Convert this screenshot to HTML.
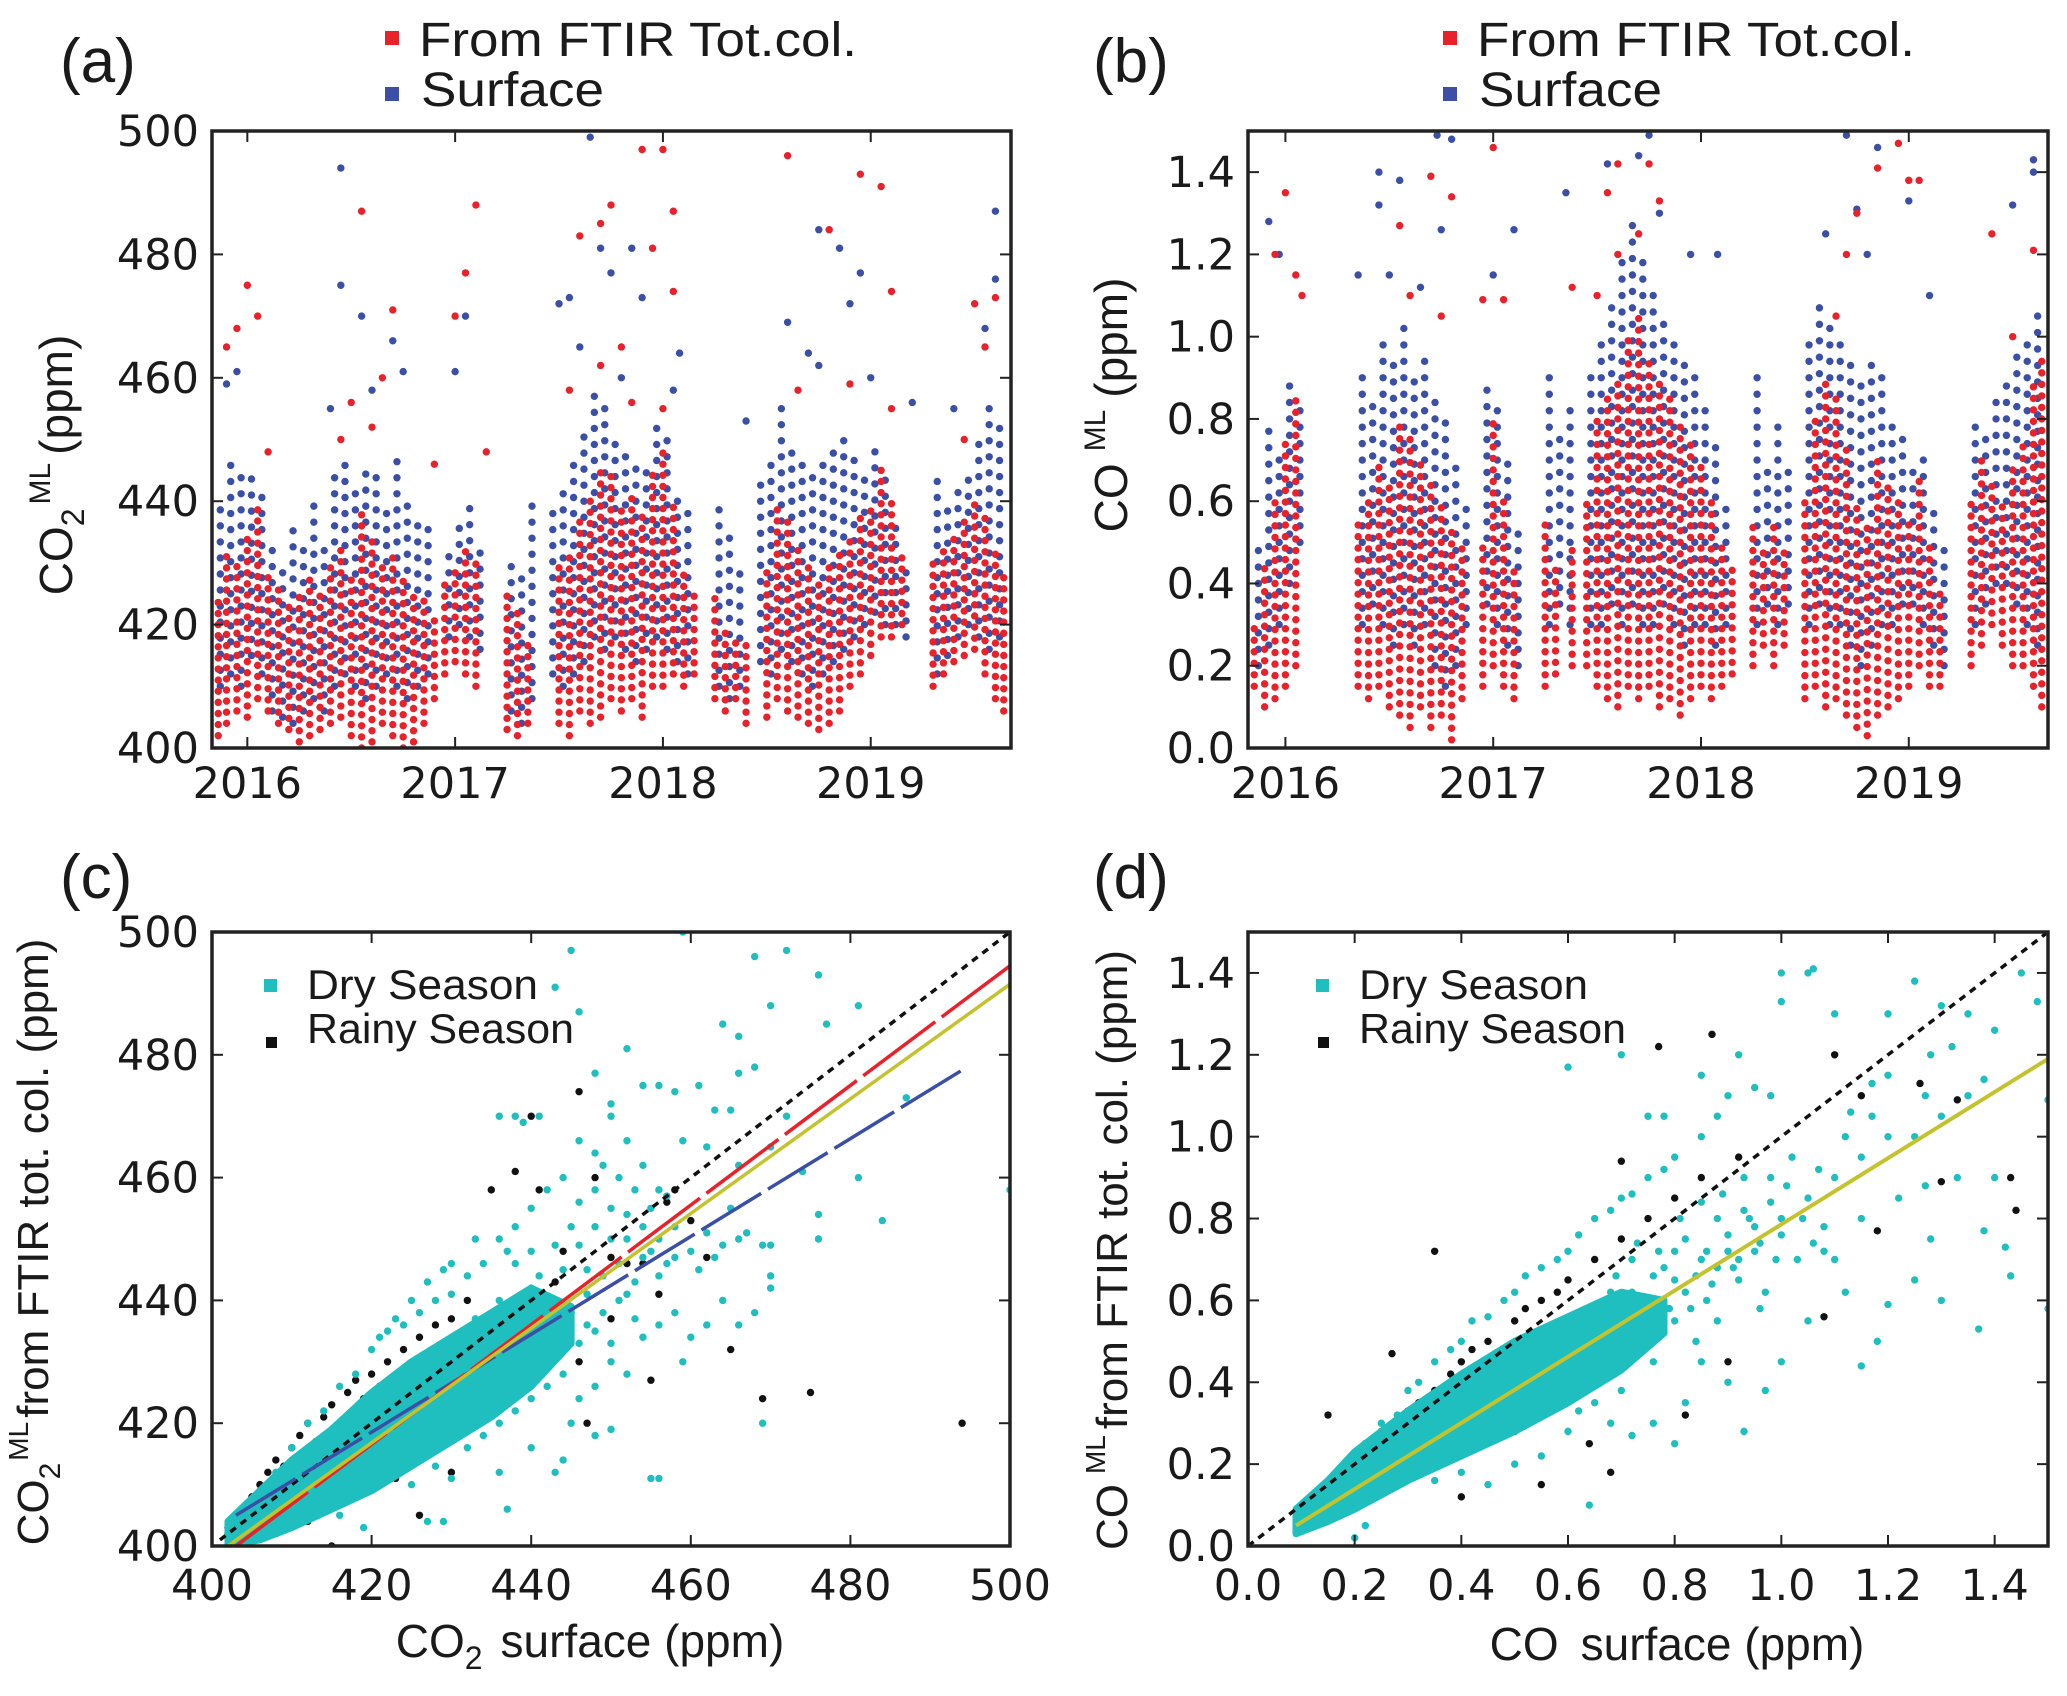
<!DOCTYPE html>
<html><head><meta charset="utf-8"><style>
html,body{margin:0;padding:0;background:#fff}
svg{display:block}
text{font-family:"DejaVu Sans","Liberation Sans",sans-serif;fill:#1a1a1a}
.lab{font-family:"Liberation Sans",sans-serif}
</style></head><body>
<svg id="fig" width="2067" height="1696" viewBox="0 0 2067 1696" xmlns="http://www.w3.org/2000/svg">
<g>
<text class="lab" x="60" y="82" font-size="62">(a)</text>
<rect x="385" y="31" width="14" height="14" fill="#e8212a"/>
<text class="lab" x="419" y="56" font-size="48" textLength="438" lengthAdjust="spacingAndGlyphs">From FTIR Tot.col.</text>
<rect x="385" y="87" width="14" height="14" fill="#3a4fa5"/>
<text class="lab" x="421" y="106" font-size="48" textLength="183" lengthAdjust="spacingAndGlyphs">Surface</text>
<text class="lab" transform="translate(72,465) rotate(-90)" text-anchor="middle" font-size="46">CO<tspan font-size="32" dy="12">2</tspan><tspan font-size="30" dy="-34" dx="4">ML</tspan><tspan dy="22" dx="8">(ppm)</tspan></text>
</g>
<g>
<text class="lab" x="1093" y="82" font-size="62">(b)</text>
<rect x="1443" y="31" width="14" height="14" fill="#e8212a"/>
<text class="lab" x="1477" y="56" font-size="48" textLength="438" lengthAdjust="spacingAndGlyphs">From FTIR Tot.col.</text>
<rect x="1443" y="87" width="14" height="14" fill="#3a4fa5"/>
<text class="lab" x="1479" y="106" font-size="48" textLength="183" lengthAdjust="spacingAndGlyphs">Surface</text>
<text class="lab" transform="translate(1127,405) rotate(-90)" text-anchor="middle" font-size="46">CO<tspan font-size="30" dy="-22" dx="12">ML</tspan><tspan dy="22" dx="12">(ppm)</tspan></text>
</g>
<g>
<text class="lab" x="60" y="898" font-size="62">(c)</text>
<rect x="264" y="979" width="13" height="13" fill="#1fbfbf"/>
<text class="lab" x="307" y="999" font-size="42" textLength="231" lengthAdjust="spacingAndGlyphs">Dry Season</text>
<rect x="266" y="1037" width="11" height="11" fill="#111"/>
<text class="lab" x="307" y="1043" font-size="42" textLength="267" lengthAdjust="spacingAndGlyphs">Rainy Season</text>
<text class="lab" x="590" y="1657" text-anchor="middle" font-size="46">CO<tspan font-size="32" dy="12">2</tspan><tspan dy="-12" dx="18">surface (ppm)</tspan></text>
<text class="lab" transform="translate(48,1242) rotate(-90)" text-anchor="middle" font-size="44">CO<tspan font-size="30" dy="12">2</tspan><tspan font-size="28" dy="-32" dx="2">ML</tspan><tspan dy="20" dx="4">from FTIR tot. col. (ppm)</tspan></text>
</g>
<g>
<text class="lab" x="1093" y="898" font-size="62">(d)</text>
<rect x="1316" y="979" width="13" height="13" fill="#1fbfbf"/>
<text class="lab" x="1359" y="999" font-size="42" textLength="229" lengthAdjust="spacingAndGlyphs">Dry Season</text>
<rect x="1318" y="1037" width="11" height="11" fill="#111"/>
<text class="lab" x="1359" y="1043" font-size="42" textLength="267" lengthAdjust="spacingAndGlyphs">Rainy Season</text>
<text class="lab" x="1677" y="1660" text-anchor="middle" font-size="46">CO<tspan dx="22">surface (ppm)</tspan></text>
<text class="lab" transform="translate(1127,1250) rotate(-90)" text-anchor="middle" font-size="44">CO<tspan font-size="28" dy="-22" dx="10">ML</tspan><tspan dy="22" dx="6">from FTIR tot. col. (ppm)</tspan></text>
</g>
</svg>
<script>
// ---------- data ----------
const ticksYear = [2016, 2017, 2018, 2019];
const ticksCO2 = [400, 420, 440, 460, 480, 500];
const ticksCO = [0, 0.2, 0.4, 0.6, 0.8, 1.0, 1.2, 1.4];

// panel a: daily columns [time, low, high]
const redColsA = [[2015.86,402,425],[2015.90,404,432],[2015.95,406,430],[2016.00,405,435],[2016.05,408,440],[2016.10,406,428],[2016.15,404,426],[2016.20,403,424],[2016.25,401,425],[2016.30,402,428],[2016.35,403,426],[2016.40,404,430],[2016.45,405,432],[2016.50,402,428],[2016.55,400,438],[2016.60,401,435],[2016.65,404,430],[2016.70,402,432],[2016.75,400,428],[2016.80,401,426],[2016.85,404,425],[2016.90,408,422],[2016.95,412,428],[2017.00,414,430],[2017.05,412,432],[2017.10,410,430],[2017.25,403,425],[2017.30,402,422],[2017.35,404,418],[2017.50,404,430],[2017.55,402,432],[2017.60,406,438],[2017.65,404,440],[2017.70,405,445],[2017.75,408,445],[2017.80,406,440],[2017.85,408,442],[2017.90,405,438],[2017.95,410,445],[2018.00,410,448],[2018.05,412,440],[2018.10,410,428],[2018.15,412,425],[2018.25,408,425],[2018.30,406,420],[2018.35,408,418],[2018.40,404,418],[2018.50,405,430],[2018.55,408,440],[2018.60,406,438],[2018.65,405,432],[2018.70,404,430],[2018.75,403,428],[2018.80,404,430],[2018.85,406,432],[2018.90,410,435],[2018.95,412,438],[2019.00,415,440],[2019.05,418,445],[2019.10,418,440],[2019.15,420,432],[2019.30,410,430],[2019.35,412,432],[2019.40,414,435],[2019.45,415,438],[2019.50,416,440],[2019.55,412,438],[2019.60,408,432],[2019.64,406,428]];
const blueColsA = [[2015.87,410,440],[2015.92,412,446],[2015.97,410,445],[2016.02,415,446],[2016.07,412,442],[2016.12,406,432],[2016.17,405,430],[2016.22,404,436],[2016.27,406,432],[2016.32,408,440],[2016.37,406,434],[2016.42,410,445],[2016.47,412,446],[2016.52,410,442],[2016.57,408,446],[2016.62,410,445],[2016.67,412,440],[2016.72,410,448],[2016.77,408,440],[2016.82,410,438],[2016.87,412,436],[2016.97,418,432],[2017.02,420,438],[2017.07,418,440],[2017.12,416,432],[2017.27,406,430],[2017.32,404,428],[2017.37,408,440],[2017.47,412,440],[2017.52,410,442],[2017.57,412,446],[2017.62,414,452],[2017.67,418,458],[2017.72,416,455],[2017.77,418,450],[2017.82,416,448],[2017.87,414,446],[2017.92,416,446],[2017.97,418,452],[2018.02,416,450],[2018.07,414,442],[2018.12,412,438],[2018.27,410,440],[2018.32,408,436],[2018.37,410,430],[2018.47,414,445],[2018.52,412,448],[2018.57,416,455],[2018.62,414,450],[2018.67,412,448],[2018.72,410,446],[2018.77,412,448],[2018.82,414,450],[2018.87,416,452],[2018.92,418,448],[2018.97,420,445],[2019.02,422,448],[2019.07,420,445],[2019.12,420,438],[2019.17,418,430],[2019.32,412,445],[2019.37,415,440],[2019.42,418,442],[2019.47,420,445],[2019.52,418,450],[2019.57,416,455],[2019.62,418,452]];
const redPtsA = [[2015.9,465],[2015.95,468],[2016.05,470],[2016.0,475],[2016.45,450],[2016.55,487],[2016.7,471],[2016.65,460],[2017.05,477],[2017.1,488],[2017.0,470],[2017.6,483],[2017.7,485],[2017.75,488],[2017.8,465],[2017.9,497],[2018.0,497],[2018.05,487],[2017.95,481],[2018.05,474],[2018.6,496],[2018.8,484],[2018.95,493],[2019.05,491],[2019.1,474],[2019.5,472],[2019.6,473],[2019.55,465],[2016.5,456],[2016.6,452],[2017.55,458],[2017.7,462],[2017.85,456],[2018.0,455],[2018.65,458],[2018.9,459],[2019.1,455],[2019.45,450],[2016.1,448],[2016.9,446],[2017.15,448]];
const bluePtsA = [[2015.9,459],[2015.95,461],[2016.45,494],[2016.45,475],[2016.55,470],[2016.7,466],[2016.75,461],[2017.05,470],[2017.0,461],[2017.5,472],[2017.55,473],[2017.65,499],[2017.7,481],[2017.85,481],[2017.75,477],[2017.9,473],[2018.08,464],[2018.6,469],[2018.7,464],[2018.75,484],[2018.85,481],[2018.9,472],[2018.95,477],[2019.2,456],[2019.6,487],[2019.6,476],[2019.55,468],[2016.4,455],[2016.6,458],[2017.6,465],[2017.8,460],[2018.05,458],[2018.4,453],[2018.75,462],[2019.0,460],[2019.4,455]];

// panel b
const redColsB = [[2015.85,.15,.30],[2015.90,.1,.45],[2015.95,.12,.6],[2016.00,.15,.75],[2016.05,.2,.85],[2016.35,.15,.55],[2016.40,.12,.6],[2016.45,.15,.7],[2016.50,.1,.65],[2016.55,.08,.8],[2016.60,.05,.75],[2016.65,.1,.7],[2016.70,.05,.65],[2016.75,.08,.6],[2016.80,.02,.55],[2016.85,.12,.5],[2016.95,.15,.5],[2017.00,.2,.8],[2017.05,.15,.6],[2017.10,.12,.45],[2017.25,.15,.55],[2017.30,.18,.45],[2017.38,.2,.5],[2017.45,.2,.6],[2017.50,.15,.8],[2017.55,.12,.85],[2017.60,.1,.9],[2017.65,.15,1.0],[2017.70,.12,1.05],[2017.75,.15,.95],[2017.80,.1,.9],[2017.85,.12,.85],[2017.90,.08,.8],[2017.95,.12,.75],[2018.00,.15,.7],[2018.05,.12,.6],[2018.10,.15,.5],[2018.15,.18,.45],[2018.25,.2,.55],[2018.30,.25,.5],[2018.35,.2,.55],[2018.40,.25,.5],[2018.50,.12,.6],[2018.55,.15,.8],[2018.60,.1,.9],[2018.65,.12,.85],[2018.70,.08,.75],[2018.75,.05,.6],[2018.80,.03,.55],[2018.85,.08,.7],[2018.90,.1,.65],[2018.95,.12,.6],[2019.00,.15,.55],[2019.05,.2,.65],[2019.10,.15,.5],[2019.15,.15,.4],[2019.30,.2,.6],[2019.35,.25,.7],[2019.40,.3,.65],[2019.45,.25,.6],[2019.50,.2,.7],[2019.55,.2,.75],[2019.60,.15,.9],[2019.64,.1,.95]];
const blueColsB = [[2015.87,.2,.5],[2015.92,.25,.8],[2015.97,.3,.7],[2016.02,.4,.9],[2016.07,.5,.85],[2016.37,.3,.9],[2016.42,.35,.85],[2016.47,.3,1.0],[2016.52,.25,.95],[2016.57,.3,1.05],[2016.62,.25,.9],[2016.67,.3,.95],[2016.72,.2,.85],[2016.77,.15,.8],[2016.82,.2,.7],[2016.87,.3,.6],[2016.97,.35,.9],[2017.02,.3,.85],[2017.07,.25,.7],[2017.12,.2,.55],[2017.27,.3,.9],[2017.32,.35,.75],[2017.37,.3,.85],[2017.47,.3,.9],[2017.52,.3,1.0],[2017.57,.35,1.1],[2017.62,.3,1.2],[2017.67,.35,1.3],[2017.72,.3,1.2],[2017.77,.3,1.1],[2017.82,.35,1.05],[2017.87,.3,1.0],[2017.92,.25,.95],[2017.97,.3,.9],[2018.02,.3,.85],[2018.07,.25,.75],[2018.12,.3,.6],[2018.27,.3,.9],[2018.32,.35,.7],[2018.37,.3,.8],[2018.42,.35,.7],[2018.52,.3,1.0],[2018.57,.35,1.1],[2018.62,.3,1.05],[2018.67,.3,1.0],[2018.72,.25,.95],[2018.77,.2,.9],[2018.82,.25,.95],[2018.87,.3,.9],[2018.92,.3,.8],[2018.97,.35,.75],[2019.02,.35,.7],[2019.07,.3,.7],[2019.12,.25,.6],[2019.17,.2,.5],[2019.32,.3,.8],[2019.37,.35,.75],[2019.42,.4,.85],[2019.47,.4,.9],[2019.52,.35,.95],[2019.57,.3,1.0],[2019.62,.25,1.05]];
const redPtsB = [[2015.95,1.2],[2016.0,1.35],[2016.05,1.15],[2016.08,1.1],[2016.55,1.27],[2016.7,1.39],[2016.8,1.34],[2017.0,1.46],[2016.95,1.09],[2017.05,1.09],[2017.38,1.12],[2017.55,1.35],[2017.6,1.42],[2017.75,1.42],[2017.8,1.33],[2018.75,1.3],[2018.85,1.41],[2018.95,1.47],[2019.0,1.38],[2019.05,1.38],[2019.4,1.25],[2019.6,1.21],[2016.6,1.1],[2016.75,1.05],[2017.6,1.2],[2017.7,1.25],[2018.7,1.2],[2018.65,1.05],[2019.5,1.0],[2017.5,1.1]];
const bluePtsB = [[2015.92,1.28],[2015.97,1.2],[2016.35,1.15],[2016.45,1.4],[2016.45,1.32],[2016.55,1.38],[2016.73,1.49],[2016.8,1.48],[2016.75,1.26],[2017.1,1.26],[2017.35,1.35],[2017.55,1.42],[2017.7,1.44],[2017.75,1.49],[2017.95,1.2],[2018.08,1.2],[2018.7,1.49],[2018.75,1.31],[2018.85,1.46],[2019.0,1.33],[2019.5,1.32],[2019.6,1.43],[2019.6,1.4],[2016.5,1.15],[2016.65,1.12],[2017.0,1.15],[2017.8,1.3],[2018.6,1.25],[2018.8,1.2],[2019.1,1.1]];

// panel c: dense core envelope + points
const coreXC = [402,406,410,415,420,425,430,435,440,445];
const coreLoC = [400,401,403,406,409,413,417,421,426,433];
const coreHiC = [404,409,414,419,425,430,434,438,442,439];
const dryC = [[436,440],[438,446],[440,448],[442,436],[444,445],[445,452],[446,456],[448,458],[450,455],[452,450],[454,447],[456,444],[458,452],[460,448],[462,451],[464,449],[466,450],[456,458],[454,462],[452,466],[450,470],[448,464],[446,466],[444,460],[442,458],[440,455],[438,452],[436,450],[434,446],[432,444],[430,441],[428,440],[426,438],[424,436],[422,435],[420,432],[418,428],[416,426],[414,422],[412,420],[410,416],[408,412],[406,409],[404,404],[402,402],[425,410],[428,413],[430,411],[432,416],[434,418],[436,420],[438,422],[440,424],[442,426],[444,428],[446,424],[448,426],[450,430],[452,428],[454,434],[456,436],[458,438],[460,434],[462,436],[464,440],[466,436],[468,438],[470,442],[440,416],[443,412],[436,412],[427,404],[419,403],[416,405],[445,420],[448,418],[450,419],[455,411],[459,430],[461,445],[463,447],[465,455],[467,451],[469,449],[445,497],[443,491],[446,487],[452,481],[448,477],[436,470],[438,470],[441,470],[439,469],[450,472],[454,475],[456,475],[458,474],[461,475],[463,471],[465,471],[459,466],[462,465],[466,462],[470,465],[472,470],[466,477],[468,478],[470,488],[472,497],[468,496],[476,493],[477,485],[481,488],[459,500],[464,485],[466,483],[474,461],[481,460],[476,454],[484,453],[476,450],[470,449],[470,444],[487,473],[500,458],[469,420],[456,411],[437,406],[429,404],[444,414],[433,450],[430,446],[433,437],[437,448],[440,442],[443,449],[447,445],[449,462],[451,460],[453,458],[455,455],[457,457],[441,444],[443,440],[445,438],[447,441],[449,444],[451,446],[453,443],[455,448],[457,446],[446,449],[448,452],[450,450],[452,454],[454,452],[456,450],[458,447],[447,436],[449,438],[451,440],[453,437],[442,432],[444,434],[446,433],[448,435],[450,433],[452,441],[439,438],[437,436],[435,434],[441,428],[439,430],[437,428],[434,426],[432,424],[430,422],[428,420],[426,419],[424,417],[422,415],[420,413],[418,411],[416,409],[414,407],[412,405],[410,404],[408,402],[425,440],[427,443],[429,445],[423,437],[421,434]];
const rainyC = [[402,403],[404,405],[405,408],[406,410],[407,412],[408,414],[409,413],[410,416],[411,418],[412,420],[413,417],[414,421],[415,423],[416,420],[417,425],[418,427],[419,424],[420,428],[421,426],[422,430],[424,432],[426,434],[428,436],[430,437],[432,440],[433,435],[435,458],[438,461],[440,470],[441,458],[446,474],[448,460],[444,448],[450,447],[452,446],[454,446],[456,441],[460,453],[462,447],[465,432],[469,424],[475,425],[494,420],[447,420],[455,427],[412,404],[415,400],[408,403],[418,408],[423,411],[426,405],[430,412],[436,433],[440,438],[443,443],[446,430],[450,437],[458,458],[457,456]];
const oneToOneC = [401, 500];
const redFitX = [403, 500], redFitY = [400, 494.5];
const blueFitX = [403, 494], blueFitY = [405, 477.5];
const yellowFitX = [402, 500], yellowFitY = [400, 491.5];

// panel d
const coreXD = [0.09,0.15,0.2,0.3,0.4,0.5,0.6,0.7,0.78];
const coreLoD = [0.03,0.06,0.09,0.16,0.22,0.28,0.35,0.43,0.52];
const coreHiD = [0.09,0.16,0.23,0.33,0.42,0.5,0.56,0.62,0.6];
const dryD = [[0.12,0.05],[0.15,0.08],[0.18,0.12],[0.2,0.02],[0.22,0.05],[0.25,0.3],[0.28,0.32],[0.3,0.38],[0.32,0.4],[0.35,0.45],[0.38,0.48],[0.4,0.5],[0.42,0.55],[0.45,0.56],[0.48,0.6],[0.5,0.62],[0.52,0.66],[0.55,0.68],[0.58,0.7],[0.6,0.72],[0.62,0.76],[0.65,0.8],[0.68,0.82],[0.7,0.85],[0.72,0.86],[0.75,0.9],[0.78,0.92],[0.8,0.95],[0.85,1.0],[0.88,1.05],[0.9,1.1],[0.95,1.12],[0.92,1.2],[0.7,1.2],[0.6,1.17],[0.75,1.05],[0.78,1.05],[0.85,1.15],[0.98,1.1],[1.05,1.4],[1.06,1.41],[1.0,1.4],[1.0,1.33],[1.1,1.3],[1.2,1.3],[1.25,1.38],[1.3,1.32],[1.35,1.3],[1.4,1.26],[1.45,1.4],[1.48,1.33],[1.5,1.09],[1.5,0.58],[1.42,0.73],[1.4,0.9],[1.43,0.66],[1.37,0.53],[1.38,0.77],[1.3,0.6],[1.28,0.75],[1.25,0.65],[1.2,0.59],[1.18,0.5],[1.15,0.44],[1.12,0.62],[1.1,0.7],[1.08,0.78],[1.05,0.55],[1.0,0.45],[0.97,0.38],[0.93,0.28],[0.9,0.4],[0.85,0.45],[0.82,0.35],[0.8,0.25],[0.76,0.3],[0.72,0.27],[0.7,0.38],[0.68,0.3],[0.65,0.35],[0.62,0.33],[0.6,0.28],[0.55,0.22],[0.5,0.2],[0.45,0.15],[0.4,0.18],[0.35,0.16],[0.64,0.1],[0.7,0.55],[0.75,0.6],[0.8,0.65],[0.85,0.7],[0.9,0.72],[0.95,0.78],[1.0,0.8],[1.05,0.85],[1.1,0.9],[1.15,0.95],[1.2,1.0],[1.25,1.0],[1.3,1.05],[1.35,1.1],[0.82,0.75],[0.88,0.8],[0.93,0.82],[0.98,0.9],[1.02,0.95],[1.07,0.92],[1.12,1.0],[1.17,1.05],[0.72,0.7],[0.78,0.68],[0.68,0.62],[0.64,0.58],[0.58,0.52],[0.55,0.45],[0.6,0.48],[0.66,0.52],[0.74,0.5],[0.8,0.55],[0.86,0.6],[0.92,0.65],[0.97,0.62],[1.03,0.7],[1.08,0.72],[1.15,0.8],[1.22,0.85],[1.27,0.88],[1.33,0.9],[1.28,1.2],[1.32,1.22],[1.17,1.13],[1.2,1.15],[1.13,1.06],[1.27,1.1],[1.38,1.14],[0.82,0.62],[0.84,0.66],[0.86,0.72],[0.88,0.68],[0.9,0.76],[0.92,0.7],[0.94,0.8],[0.96,0.74],[0.98,0.84],[1.0,0.76],[0.8,0.72],[0.83,0.58],[0.87,0.64],[0.91,0.68],[0.95,0.72],[0.99,0.7],[0.76,0.66],[0.79,0.58],[0.74,0.56],[0.72,0.62],[0.77,0.72],[0.73,0.74],[0.69,0.66],[0.81,0.8],[0.85,0.84],[0.89,0.86],[0.93,0.9],[1.01,0.88],[1.04,0.8],[1.06,0.74],[0.76,0.45],[0.84,0.5],[0.88,0.55],[0.96,0.58]];
const rainyD = [[0.12,0.1],[0.15,0.15],[0.18,0.2],[0.2,0.22],[0.22,0.25],[0.25,0.28],[0.28,0.3],[0.3,0.33],[0.32,0.35],[0.35,0.38],[0.38,0.42],[0.4,0.45],[0.42,0.48],[0.45,0.5],[0.5,0.55],[0.52,0.58],[0.55,0.6],[0.58,0.62],[0.6,0.65],[0.65,0.7],[0.7,0.75],[0.75,0.8],[0.8,0.85],[0.85,0.9],[0.92,0.95],[0.7,0.94],[0.87,1.25],[0.77,1.22],[1.1,1.2],[1.15,1.1],[1.26,1.13],[1.33,1.09],[1.43,0.9],[1.44,0.82],[1.18,0.77],[1.3,0.89],[1.08,0.56],[0.6,0.37],[0.64,0.25],[0.55,0.15],[0.5,0.28],[0.45,0.32],[0.27,0.47],[0.15,0.32],[0.4,0.12],[0.68,0.18],[0.35,0.72],[0.9,0.45],[0.82,0.32]];
const oneToOneD = [0, 1.5];
const yellowFitDX = [0.09, 1.5], yellowFitDY = [0.05, 1.19];

// ---------- drawing ----------
const NS = 'http://www.w3.org/2000/svg';
const svg = document.getElementById('fig');
function mk(tag, attrs, parent) {
  const e = document.createElementNS(NS, tag);
  for (const k in attrs) e.setAttribute(k, attrs[k]);
  (parent || svg).appendChild(e);
  return e;
}
function makeAxes(id, box, xd, yd) {
  const g = mk('g', {});
  
  
  const sx = v => box.x0 + (v - xd[0]) / (xd[1] - xd[0]) * (box.x1 - box.x0);
  const sy = v => box.y1 - (v - yd[0]) / (yd[1] - yd[0]) * (box.y1 - box.y0);
  const cp = mk('clipPath', { id: 'clip-' + id }, g);
  mk('rect', { x: box.x0, y: box.y0, width: box.x1 - box.x0, height: box.y1 - box.y0 }, cp);
  const marks = mk('g', { 'clip-path': 'url(#clip-' + id + ')' }, g);
  
  
  return { g, marks, sx, sy, box };
}
function finishAxes(ax, xt, yt, fmtX, fmtY, xBase) {
  const { g, sx, sy, box } = ax;
  xt.forEach(v => {
    const x = sx(v);
    const t1 = mk('line', { x1: x, x2: x, y1: box.y1, y2: box.y1 - 11, stroke: '#222', 'stroke-width': 2 }, g);
    
    
    mk('line', { x1: x, x2: x, y1: box.y0, y2: box.y0 + 11, stroke: '#222', 'stroke-width': 2 }, g);
    const tl = mk('text', { x: x, y: xBase, 'text-anchor': 'middle', 'font-size': 43 }, g);
    tl.textContent = fmtX(v);
    
    
  });
  yt.forEach(v => {
    const y = sy(v);
    const t1 = mk('line', { x1: box.x0, x2: box.x0 + 11, y1: y, y2: y, stroke: '#222', 'stroke-width': 2 }, g);
    
    
    mk('line', { x1: box.x1, x2: box.x1 - 11, y1: y, y2: y, stroke: '#222', 'stroke-width': 2 }, g);
    const tl = mk('text', { x: box.x0 - 13, y: y + 15, 'text-anchor': 'end', 'font-size': 43 }, g);
    tl.textContent = fmtY(v);
    
    
  });
  const fr = mk('rect', { x: box.x0, y: box.y0, width: box.x1 - box.x0, height: box.y1 - box.y0, fill: 'none', stroke: '#222', 'stroke-width': 3.5 }, g);
  
  
}
function dot(ax, x, y, color, name) {
  const c = mk('circle', { cx: ax.sx(x), cy: ax.sy(y), r: 3.7, fill: color }, ax.marks);
  
  
}
function columns(ax, cols, step, color, name) {
  cols.forEach(c => {
    for (let v = c[1]; v <= c[2] + 1e-9; v += step) dot(ax, c[0], v, color, name);
  });
}
function band(ax, xs, lo, hi, color, name) {
  let d = '';
  xs.forEach((x, i) => { d += (i ? 'L' : 'M') + ax.sx(x) + ',' + ax.sy(hi[i]); });
  for (let i = xs.length - 1; i >= 0; i--) d += 'L' + ax.sx(xs[i]) + ',' + ax.sy(lo[i]);
  const p = mk('path', { d: d + 'Z', fill: color, stroke: color, 'stroke-width': 7, 'stroke-linejoin': 'round' }, ax.marks);
  
  
}
function line(ax, xs, ys, color, dash, w, name) {
  const l = mk('line', { x1: ax.sx(xs[0]), y1: ax.sy(ys[0]), x2: ax.sx(xs[1]), y2: ax.sy(ys[1]), stroke: color, 'stroke-width': w, 'stroke-dasharray': dash }, ax.marks);
  
  
}
const RED = '#e8212a', BLUE = '#3a4fa5', CYAN = '#1fbfbf', BLK = '#111', YEL = '#c3c32e';
const fmt1 = v => v.toFixed(1), fmt0 = v => String(v);

// panel a
const A = makeAxes('panel-a', { x0: 212, x1: 1011, y0: 131, y1: 748 }, [2015.83, 2019.675], [400, 500]);
columns(A, blueColsA, 2.6, BLUE, 'surface-point');
bluePtsA.forEach(p => dot(A, p[0], p[1], BLUE, 'surface-point'));
columns(A, redColsA, 1.8, RED, 'ftir-point');
redPtsA.forEach(p => dot(A, p[0], p[1], RED, 'ftir-point'));
finishAxes(A, ticksYear, ticksCO2, fmt0, fmt0, 798);

// panel b
const B = makeAxes('panel-b', { x0: 1248, x1: 2048, y0: 131, y1: 748 }, [2015.82, 2019.67], [0, 1.5]);
columns(B, blueColsB, 0.04, BLUE, 'surface-point');
bluePtsB.forEach(p => dot(B, p[0], p[1], BLUE, 'surface-point'));
columns(B, redColsB, 0.028, RED, 'ftir-point');
redPtsB.forEach(p => dot(B, p[0], p[1], RED, 'ftir-point'));
finishAxes(B, ticksYear, ticksCO, fmt0, fmt1, 798);

// panel c
const C = makeAxes('panel-c', { x0: 212, x1: 1010, y0: 932, y1: 1546 }, [400, 500], [400, 500]);
rainyC.forEach(p => dot(C, p[0], p[1], BLK, 'rainy-point'));
band(C, coreXC, coreLoC, coreHiC, CYAN, 'dry-season-core');
dryC.forEach(p => dot(C, p[0], p[1], CYAN, 'dry-point'));
line(C, oneToOneC, oneToOneC, BLK, '7,6', 3.5, 'one-to-one-line');
line(C, blueFitX, blueFitY, BLUE, '70,8', 3.5, 'surface-fit-line');
line(C, redFitX, redFitY, RED, '90,8', 3.5, 'ftir-fit-line');
line(C, yellowFitX, yellowFitY, YEL, 'none', 3.5, 'overall-fit-line');
finishAxes(C, ticksCO2, ticksCO2, fmt0, fmt0, 1600);

// panel d
const D = makeAxes('panel-d', { x0: 1248, x1: 2048, y0: 932, y1: 1546 }, [0, 1.5], [0, 1.5]);
rainyD.forEach(p => dot(D, p[0], p[1], BLK, 'rainy-point'));
band(D, coreXD, coreLoD, coreHiD, CYAN, 'dry-season-core');
dryD.forEach(p => dot(D, p[0], p[1], CYAN, 'dry-point'));
line(D, oneToOneD, oneToOneD, BLK, '7,6', 3.5, 'one-to-one-line');
line(D, yellowFitDX, yellowFitDY, YEL, 'none', 4, 'overall-fit-line');
finishAxes(D, ticksCO, ticksCO, fmt1, fmt1, 1600);
</script>
</body></html>
